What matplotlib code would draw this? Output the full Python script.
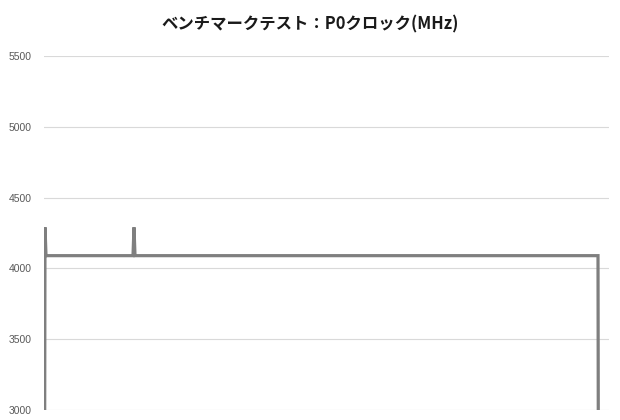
import matplotlib
matplotlib.use("Agg")
import matplotlib.pyplot as plt

plt.rcParams['font.family'] = ['Noto Sans CJK JP', 'DejaVu Sans']

# sample index (time) and P0 clock (MHz); flat segments are constant
sample = [0, 1, 2, 89, 90, 91, 554, 555]
clock = [0, 4290, 4090, 4090, 4290, 4090, 4090, 0]
yticks = [3000, 3500, 4000, 4500, 5000, 5500]
title = "ベンチマークテスト：P0クロック(MHz)"

fig = plt.figure(figsize=(6.2, 4.2), dpi=100)
ax = fig.add_axes([44/620, 10/420, 565/620, 354/420])
ax.plot(sample, clock, color="#7f7f7f", linewidth=2.3, solid_joinstyle="miter")
ax.set_xlim(0, 565)
ax.set_ylim(3000, 5500)
ax.set_yticks(yticks)
ax.set_yticklabels([str(v) for v in yticks], family=['Liberation Sans', 'DejaVu Sans'],
                   fontsize=7.5, color="#595959")
ax.set_xticks([])
ax.tick_params(axis='y', length=0, pad=9)
ax.grid(axis='y', color="#d9d9d9", linewidth=0.8)
ax.set_axisbelow(True)
for s in ax.spines.values():
    s.set_visible(False)
fig.text(0.5, 1 - 24/420, title, ha='center', va='center', fontsize=11.8,
         fontweight='bold', color="#1a1a1a")
fig.savefig("out.png", dpi=100)
